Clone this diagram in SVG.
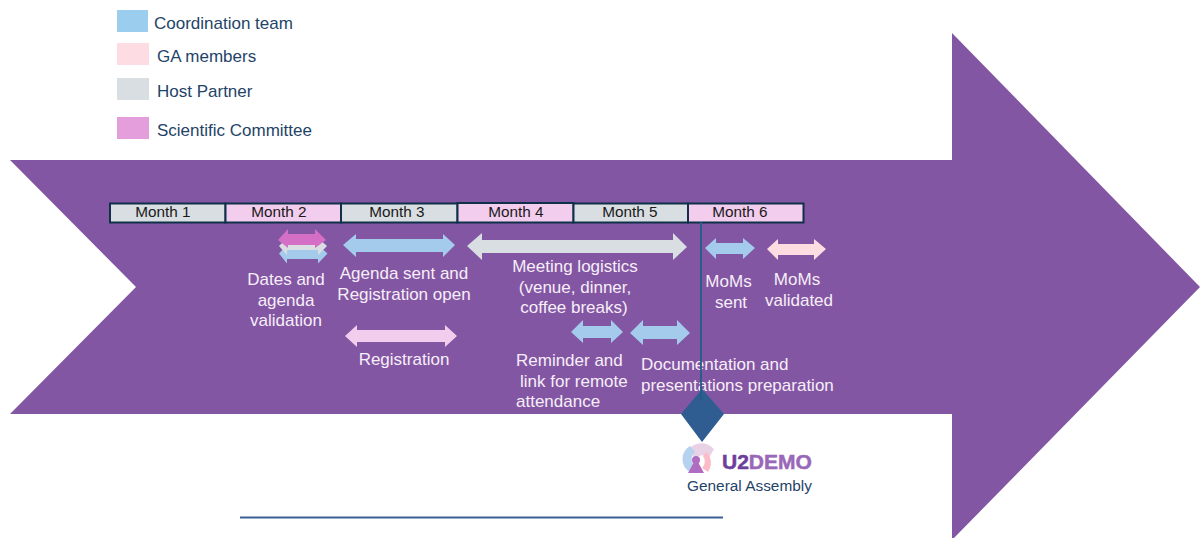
<svg xmlns="http://www.w3.org/2000/svg" width="1200" height="538" viewBox="0 0 1200 538">
<style>
text{font-family:"Liberation Sans",Arial,sans-serif}
.lg{font-size:17px;fill:#1f4468}
.w{font-size:17px;fill:#f6eef8;text-anchor:middle}
.ws{font-size:17px;fill:#f6eef8;text-anchor:start}
.m{font-size:15.300px;fill:#1a1a1a;text-anchor:middle}
.mc{stroke:#0f3048;stroke-width:2}
.blue{fill:#a5cbec}.grey{fill:#d9dee2}.pink{fill:#f2cdee}.ga{fill:#fddde2}.sci{fill:#d56fc6}
</style>
<rect width="1200" height="538" fill="#fff"/>
<polygon id="main-arrow" points="10,160 952,160 952,33 1200,287 952,540 952,414 10,414 136,287" fill="#8356a3"/>
<g id="legend">
<rect x="117" y="10" width="31" height="22" fill="#9bcdee"/><text class="lg" x="154" y="29">Coordination team</text>
<rect x="117" y="43" width="32" height="22" fill="#fddce3"/><text class="lg" x="157" y="62">GA members</text>
<rect x="117" y="78" width="32" height="22" fill="#d9dee2"/><text class="lg" x="157" y="97">Host Partner</text>
<rect x="117" y="117" width="32" height="22" fill="#e39edb"/><text class="lg" x="157" y="136">Scientific Committee</text>
</g>
<g id="months">
<g id="month-1"><rect class="mc grey" x="110" y="203.500" width="115.500" height="19"/><text class="m" x="163" y="217">Month 1</text></g>
<g id="month-2"><rect class="mc pink" x="225.500" y="203.500" width="115.500" height="19"/><text class="m" x="279" y="217">Month 2</text></g>
<g id="month-3"><rect class="mc grey" x="341" y="203.500" width="116.500" height="19"/><text class="m" x="397" y="217">Month 3</text></g>
<g id="month-4"><rect class="mc pink" x="457.500" y="203" width="116" height="19.500"/><text class="m" x="516" y="217">Month 4</text></g>
<g id="month-5"><rect class="mc grey" x="573.500" y="203.500" width="114.500" height="19"/><text class="m" x="630" y="217">Month 5</text></g>
<g id="month-6"><rect class="mc pink" x="688" y="203.500" width="115.500" height="19"/><text class="m" x="740" y="217">Month 6</text></g>
</g>
<g id="activities">
<g id="dates"><polygon class="blue" points="279,253.500 287,245 287,248 318,248 318,245 327.500,253.500 318,263.500 318,259 287,259 287,263.500"/>
<polygon class="grey" points="279,246 287,238 287,245 318,245 318,238 327,246 318,255 318,250 287,250 287,255"/>
<polygon class="sci" points="278,240 288,229 288,234 315,234 315,229 326,240 315,248 315,245 288,245 288,248"/>
<text class="w"><tspan x="286" y="285">Dates and</tspan><tspan x="286" y="306">agenda</tspan><tspan x="286" y="326">validation</tspan></text></g>
<g id="agenda"><polygon class="blue" points="343,245 356,234 356,239 443,239 443,234 455,245 443,257 443,252 356,252 356,257"/>
<text class="w"><tspan x="404" y="279">Agenda sent and</tspan><tspan x="404" y="300">Registration open</tspan></text></g>
<g id="registration"><polygon class="pink" points="345,336 357,325 357,330 445,330 445,325 457,336 445,347 445,342 357,342 357,347"/>
<text class="w" x="404" y="365">Registration</text></g>
<g id="logistics"><polygon class="grey" points="467,246 482,233 482,240 673,240 673,233 687,247 673,260 673,253 482,253 482,260"/>
<text class="w"><tspan x="575" y="272">Meeting logistics</tspan><tspan x="575" y="293">(venue, dinner,</tspan><tspan x="574" y="313">coffee breaks)</tspan></text></g>
<g id="moms-sent"><polygon class="blue" points="705,248 716,238 716,243 743,243 743,238 755,248 743,259 743,254 716,254 716,259"/>
<text class="w"><tspan x="728.500" y="287">MoMs</tspan><tspan x="731" y="308">sent</tspan></text></g>
<g id="moms-validated"><polygon class="ga" points="767,249 778,239 778,244 814,244 814,239 826,249 814,260 814,255 778,255 778,260"/>
<text class="w"><tspan x="797" y="285">MoMs</tspan><tspan x="799" y="306">validated</tspan></text></g>
<g id="reminder"><polygon class="blue" points="571,332 583,320 583,326 611,326 611,320 623,332 611,343 611,338 583,338 583,343"/>
<text class="ws"><tspan x="516" y="366">Reminder and</tspan><tspan x="520" y="387">link for remote</tspan><tspan x="516" y="407">attendance</tspan></text></g>
<g id="documentation"><polygon class="blue" points="630,333 643,320 643,326 677,326 677,320 690,333 677,345 677,339 643,339 643,345"/>
<text class="ws"><tspan x="641" y="370">Documentation and</tspan><tspan x="641" y="391">presentations preparation</tspan></text></g>
</g>
<g id="milestone">
<polygon points="702,389 724,414 702,442 681,414" fill="#2f5d92"/>
</g>
<g id="connectors">
<line x1="701" y1="222" x2="701" y2="401" stroke="#1d5f86" stroke-width="1.800"/>
</g>
<g id="logo">
<path d="M687 451A17 17 0 0 1 714 449L709 458A9 9 0 0 0 696 458Z" fill="#ead2e6"/>
<path d="M690 446A15 15 0 0 0 690 472L695 466A9 9 0 0 1 695 452Z" fill="#b5d2f0"/>
<path d="M706 452A15 15 0 0 1 708 472L702 468A9 9 0 0 0 703 456Z" fill="#fbbcc8"/>
<circle cx="696" cy="460" r="4" fill="#b06cc0"/>
<path d="M694 462H698L704 473H688Z" fill="#b06cc0"/>
<text x="722" y="469" font-size="21" font-weight="700" fill="#6d3f9b" stroke="#6d3f9b" stroke-width=".5">U2<tspan fill="#9a68b8" stroke="#9a68b8">DEMO</tspan></text>
<text x="687" y="491" font-size="15.400" fill="#1f4468">General Assembly</text>
</g>
<line id="base-line" x1="240" y1="517.500" x2="723" y2="517.500" stroke="#3a5f96" stroke-width="2"/>
</svg>
